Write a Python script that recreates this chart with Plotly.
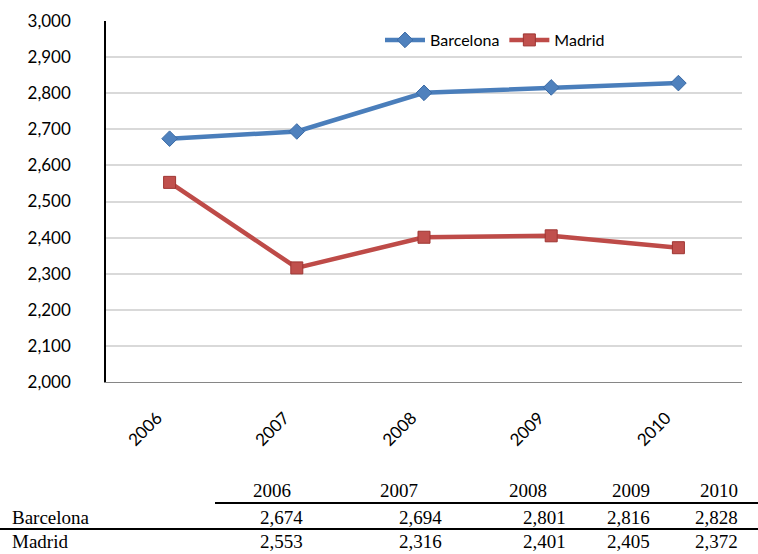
import plotly.graph_objects as go

# Annual figures by city
years = ["2006", "2007", "2008", "2009", "2010"]
barcelona = [2674, 2694, 2801, 2816, 2828]
madrid = [2553, 2316, 2401, 2405, 2372]

W, H = 758, 554
L, R, T, B = 106, 16, 21, 172
PW = W - L - R
PH = H - T - B


def px_x(px):
    """Pixel column -> paper x coordinate."""
    return (px - L) / PW


def px_y(py):
    """Pixel row (from top) -> paper y coordinate."""
    return (H - B - py) / PH


fig = go.Figure()

fig.add_trace(go.Scatter(
    x=years, y=barcelona, name="Barcelona", mode="lines+markers",
    line=dict(color="#4A7EBB", width=4.5),
    marker=dict(symbol="diamond", size=12, color="#4F81BD",
                line=dict(color="#3A6AA5", width=1)),
))
fig.add_trace(go.Scatter(
    x=years, y=madrid, name="Madrid", mode="lines+markers",
    line=dict(color="#BE4B48", width=4.5),
    marker=dict(symbol="square", size=12, color="#C0504D",
                line=dict(color="#9E3532", width=1)),
))

fig.update_layout(
    width=W, height=H,
    margin=dict(l=L, r=R, t=T, b=B, autoexpand=False),
    paper_bgcolor="white", plot_bgcolor="white",
    font=dict(family="Lato", size=17, color="black"),
    showlegend=True,
    legend=dict(orientation="h", x=px_x(380), y=px_y(40),
                xanchor="left", yanchor="middle",
                bgcolor="rgba(0,0,0,0)", font=dict(family="Lato", size=16),
                itemwidth=40),
    xaxis=dict(
        type="category", range=[-0.5, 4.5], automargin=False,
        showgrid=False, zeroline=False,
        showline=True, linecolor="#868686", linewidth=1,
        ticks="", tickangle=-45, ticklabelstandoff=6,
        ticksuffix="\u00a0\u00a0\u00a0\u00a0",
        tickfont=dict(family="Lato", size=17),
    ),
    yaxis=dict(
        range=[2000, 3000], dtick=100, tickformat=",d", automargin=False,
        showgrid=True, gridcolor="#D9D9D9", gridwidth=1.5,
        zeroline=False,
        showline=True, linecolor="black", linewidth=1.5,
        ticks="", ticklabelstandoff=30,
        tickfont=dict(family="Lato", size=17),
    ),
)

# Data table below the chart
tfont = dict(family="Liberation Serif", size=19, color="black")
header_right = [293, 420, 549, 652, 740]
value_right = [305, 444, 568, 652, 740]
row_y = {"header": 490, "Barcelona": 517, "Madrid": 541}

for yr, xr in zip(years, header_right):
    fig.add_annotation(text=yr, x=px_x(xr), y=px_y(row_y["header"]),
                       xref="paper", yref="paper", xanchor="right",
                       yanchor="middle", showarrow=False, font=tfont)

for city, vals in (("Barcelona", barcelona), ("Madrid", madrid)):
    fig.add_annotation(text=city, x=px_x(10), y=px_y(row_y[city]),
                       xref="paper", yref="paper", xanchor="left",
                       yanchor="middle", showarrow=False, font=tfont)
    for v, xr in zip(vals, value_right):
        fig.add_annotation(text=f"{v:,}", x=px_x(xr), y=px_y(row_y[city]),
                           xref="paper", yref="paper", xanchor="right",
                           yanchor="middle", showarrow=False, font=tfont)

fig.add_shape(type="line", xref="paper", yref="paper",
              x0=px_x(215), x1=px_x(758), y0=px_y(503), y1=px_y(503),
              line=dict(color="black", width=2))
fig.add_shape(type="line", xref="paper", yref="paper",
              x0=px_x(0), x1=px_x(758), y0=px_y(529), y1=px_y(529),
              line=dict(color="black", width=2))

fig.write_html("out.html")
